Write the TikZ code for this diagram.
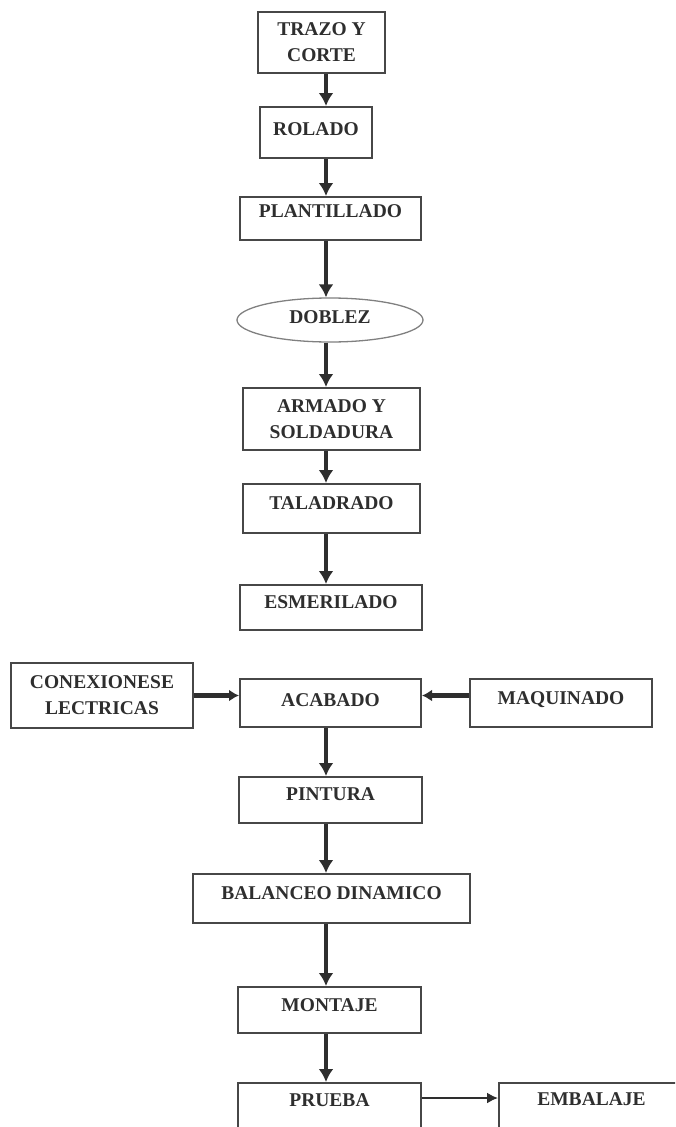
\documentclass[tikz,border=0pt]{standalone}
\usepackage{fontspec}
\setmainfont{Liberation Serif}
\usepackage{xcolor}
\usetikzlibrary{arrows.meta,shapes.geometric,positioning}
\definecolor{linegray}{HTML}{474747}
\definecolor{textgray}{HTML}{2E2E2E}
\tikzset{
	box/.style={
			draw=linegray,
			line width=2pt,
			rectangle,
			inner sep=0pt,
			text=textgray,
			font=\fontsize{19.5}{26}\selectfont\bfseries
		},
	stage/.style={
			box,
			text height=13pt,
			text depth=#1
		},
	stage/.default=10pt,
	stagetwo/.style={
			box,
			align=center
		},
	oval/.style={
			ellipse,
			draw=gray,
			line width=1.3pt,
			inner sep=0pt,
			text=textgray,
			text height=13pt,
			text depth=#1,
			font=\fontsize{19.5}{26}\selectfont\bfseries
		},
	flow/.style={draw=textgray, line width=3.4pt, -{Latex[length=13pt,width=15pt]}},
	sideflow/.style={draw=textgray, line width=4.5pt, -{Latex[length=10pt,width=12pt]}},
	thinflow/.style={draw=textgray, line width=1.8pt, -{Latex[length=11pt,width=11pt]}}
}

\begin{document}
\begin{tikzpicture}[x=1pt,y=-1pt]
	\useasboundingbox (0,0) rectangle (675,1127);
	\clip (0,0) rectangle (675,1127);
	\coordinate (spine) at (326,0);

	\node[stagetwo, minimum width=127pt, minimum height=61pt] at (321.5,42.5) (trazo) {TRAZO Y\\CORTE};
	\node[stage=8pt, minimum width=112pt, minimum height=51pt] at (316,132.5) (rolado) {ROLADO};
	\node[stage=16pt, minimum width=181pt, minimum height=43pt] at (330.5,218.5) (plantillado) {PLANTILLADO};
	\node[oval=7pt, minimum width=186pt, minimum height=44pt] at (330,320) (doblez) {DOBLEZ};
	\node[stagetwo, minimum width=177pt, minimum height=62pt] at (331.5,419) (armado) {ARMADO Y\\SOLDADURA};
	\node[stage=12pt, minimum width=177pt, minimum height=49pt] at (331.5,508.5) (taladrado) {TALADRADO};
	\node[stage=12pt, minimum width=182pt, minimum height=45pt] at (331,607.5) (esmerilado) {ESMERILADO};

	\node[stagetwo, minimum width=182pt, minimum height=65pt] at (102,695.5) (conex) {CONEXIONESE\\LECTRICAS};
	\node[stage=6pt, minimum width=181pt, minimum height=48pt] at (330.5,703) (acabado) {ACABADO};
	\node[stage=10pt, minimum width=182pt, minimum height=48pt] at (561,703) (maquinado) {MAQUINADO};

	\node[stage=13pt, minimum width=183pt, minimum height=46pt] at (330.5,800) (pintura) {PINTURA};
	\node[stage=11pt, minimum width=277pt, minimum height=49pt] at (331.5,898.5) (balanceo) {BALANCEO DINAMICO};
	\node[stage=10pt, minimum width=183pt, minimum height=46pt] at (329.5,1010) (montaje) {MONTAJE};
	\node[stage=16pt, minimum width=183pt, minimum height=50pt] at (329.5,1108) (prueba) {PRUEBA};
	\node[stage=19pt, minimum width=185pt, minimum height=50pt] at (591.5,1108) (embalaje) {EMBALAJE};

	\draw[flow] (spine |- trazo.south) -- (spine |- rolado.north);
	\draw[flow] (spine |- rolado.south) -- (spine |- plantillado.north);
	\draw[flow] (spine |- plantillado.south) -- (spine |- doblez.north);
	\draw[flow] (spine |- doblez.south) -- (spine |- armado.north);
	\draw[flow] (spine |- armado.south) -- (spine |- taladrado.north);
	\draw[flow] (spine |- taladrado.south) -- (spine |- esmerilado.north);

	\draw[sideflow] (conex.east) -- (conex.east -| acabado.west);
	\draw[sideflow] (maquinado.west |- conex.east) -- (acabado.east |- conex.east);

	\draw[flow] (spine |- acabado.south) -- (spine |- pintura.north);
	\draw[flow] (spine |- pintura.south) -- (spine |- balanceo.north);
	\draw[flow] (spine |- balanceo.south) -- (spine |- montaje.north);
	\draw[flow] (spine |- montaje.south) -- (spine |- prueba.north);
	\draw[thinflow] ([yshift=10pt]prueba.east) -- ([yshift=10pt]prueba.east -| embalaje.west);
\end{tikzpicture}
\end{document}
